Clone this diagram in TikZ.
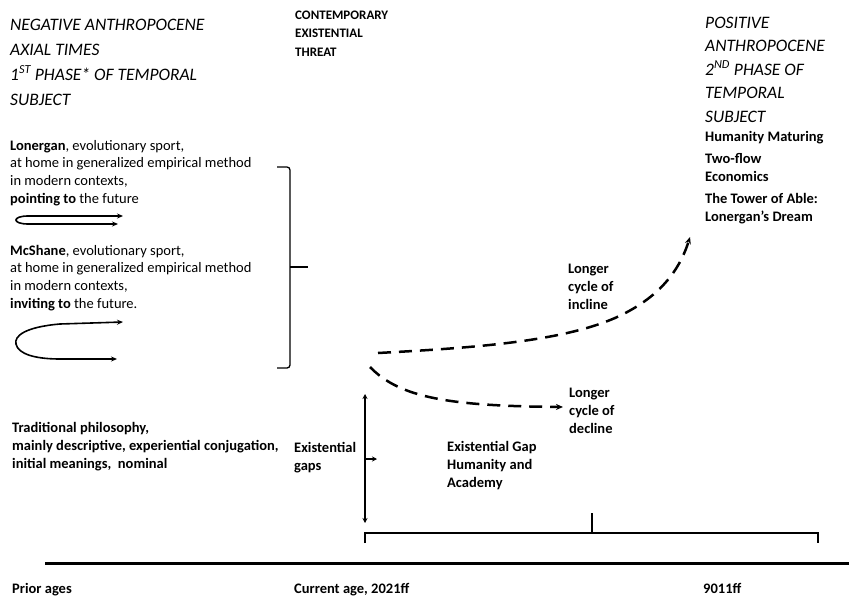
\documentclass[tikz,border=0pt]{standalone}
\usepackage{fontspec}
\setmainfont{Carlito}
\usetikzlibrary{arrows.meta}

\tikzset{
  body/.style={anchor=base west, inner sep=0pt, align=left, font=\fontsize{14.5}{17.6}\selectfont},
  bold/.style={body, font=\fontsize{14.5}{17.6}\selectfont\bfseries},
  hand/.style={anchor=base west, inner sep=0pt, align=left, font=\fontsize{17.5}{25}\selectfont\itshape},
  trend/.style={line width=2.5pt, dash pattern=on 13pt off 8pt, -{Stealth[length=7pt,width=6pt]}},
  loop/.style={line width=1.6pt, {Stealth[length=6pt,width=5pt]}-{Stealth[length=6pt,width=5pt]}},
}

\begin{document}
\begin{tikzpicture}[x=1pt, y=-1pt]
  % Fix the canvas
  \useasboundingbox (0,0) rectangle (849,597);

  % Add headings (placed at the baseline of their last line)
  \node[hand] (neghead) at (10,105) {NEGATIVE ANTHROPOCENE\\AXIAL TIMES\\1\textsuperscript{ST} PHASE* OF TEMPORAL\\SUBJECT};
  \node[body, font=\fontsize{13}{18}\selectfont\bfseries] (threat) at (295,56) {CONTEMPORARY\\EXISTENTIAL\\THREAT};
  \node[hand, font=\fontsize{17.5}{23.5}\selectfont\itshape] (poshead) at (705,122) {POSITIVE\\ANTHROPOCENE\\2\textsuperscript{ND} PHASE OF\\TEMPORAL\\SUBJECT};

  % Right column
  \node[bold] (maturing) at (705,141) {Humanity Maturing};
  \node[bold] (twoflow) at (705,181) {Two-flow\\Economics};
  \node[bold] (tower) at (705,221) {The Tower of Able:\\Lonergan’s Dream};

  % Left column
  \node[body] (lonergan) at (10,203) {\textbf{Lonergan}, evolutionary sport,\\at home in generalized empirical method\\in modern contexts,\\\textbf{pointing to} the future};
  \node[body] (mcshane) at (10,308) {\textbf{McShane}, evolutionary sport,\\at home in generalized empirical method\\in modern contexts,\\\textbf{inviting to} the future.};
  \node[bold] (tradition) at (12,468) {Traditional philosophy,\\mainly descriptive, experiential conjugation,\\initial meanings,\ \ nominal};

  % Loop arrows
  \draw[loop] (123,216) -- (28,216) .. controls (12,216) and (12,224) .. (28,224) -- (118,224);
  \draw[loop] (123,322) -- (60,324) .. controls (25,327) and (14,336) .. (16,344) .. controls (18,354) and (35,359) .. (60,359) -- (117,359);

  % Bracket
  \draw[line width=1.3pt, rounded corners=3pt] (277,167) -- (290,167) -- (290,368) -- (277,368);
  \draw[line width=1.3pt] (290,267) -- (308,267);

  % Cycles
  \coordinate (split) at (378,353);
  \coordinate (incline) at (690,237);
  \coordinate (decline) at (563,407);
  \draw[trend] (split) .. controls (470,348) and (560,342) .. (615,318) .. controls (655,300) and (678,275) .. (incline);
  \draw[trend] (370,367) .. controls (400,398) and (450,406) .. (decline);
  \node[bold] (inclab) at (568,309) {Longer\\cycle of\\incline};
  \node[bold] (declab) at (569,433) {Longer\\cycle of\\decline};

  % Existential gaps
  \coordinate (gaptop) at (365,394);
  \coordinate (gapbot) at (365,523);
  \draw[line width=2pt, {Stealth[length=5pt,width=5pt]}-{Stealth[length=5pt,width=5pt]}] (gaptop) -- (gapbot);
  \draw[line width=2pt, -{Stealth[length=5pt,width=5pt]}] (365,459) -- (377,459);
  \node[bold] (gaps) at (294,470) {Existential\\gaps};
  \node[bold] (academy) at (447,487) {Existential Gap\\Humanity and\\Academy};

  % Bottom brace
  \draw[line width=1.3pt] (365,543) -- (365,533) -- (818,533) -- (818,543);
  \draw[line width=1.3pt] (592,533) -- (592,513);

  % Time line
  \draw[line width=3pt] (45,563) -- (849,563);
  \node[bold] (prior) at (12,593) {Prior ages};
  \node[bold] (current) at (294,593) {Current age, 2021ff};
  \node[bold] (future) at (703,593) {9011ff};

\end{tikzpicture}
\end{document}
